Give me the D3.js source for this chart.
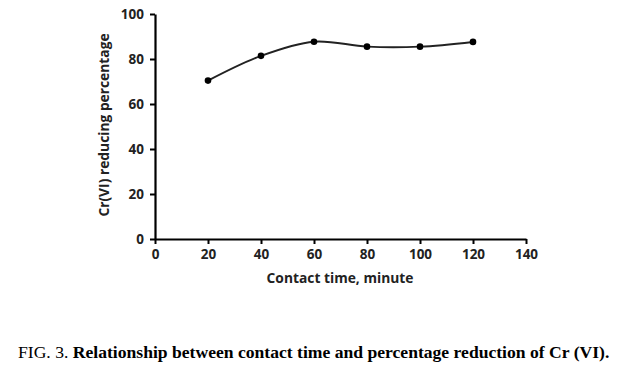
<!DOCTYPE html>
<html><head><meta charset="utf-8">
<script src="https://cdn.jsdelivr.net/npm/d3@7"></script>
<style>body{margin:0;background:#fff}svg{display:block}</style>
</head><body>
<svg id="c" width="624" height="368"></svg>
<script>
const times = [20, 40, 60, 80, 100, 120];
const reduction = [70.4, 81.4, 87.7, 85.5, 85.5, 87.6];
const xTicks = [0, 20, 40, 60, 80, 100, 120, 140];
const yTicks = [0, 20, 40, 60, 80, 100];
const xTitle = "Contact time, minute";
const yTitle = "Cr(VI) reducing percentage";

const svg = d3.select("#c");
const x = d3.scaleLinear().domain([0, 140]).range([155, 526]);
const y = d3.scaleLinear().domain([0, 100]).range([239, 14]);
const font = "'Open Sans', sans-serif";

const xa = svg.append("g").attr("transform", `translate(0,${y(0)})`)
  .call(d3.axisBottom(x).tickValues(xTicks).tickSize(5).tickPadding(5).tickSizeOuter(0));
const ya = svg.append("g").attr("transform", `translate(${x(0)},0)`)
  .call(d3.axisLeft(y).tickValues(yTicks).tickSize(5).tickPadding(6).tickSizeOuter(0));
[xa, ya].forEach(g => {
  g.select(".domain").attr("stroke", "#000").attr("stroke-width", 2.2);
  g.selectAll(".tick line").attr("stroke", "#000").attr("stroke-width", 2);
  g.selectAll(".tick text").attr("fill", "#222").style("font-family", font)
    .style("font-size", "13.5px").style("font-weight", "bold");
});

const line = d3.line().x((d, i) => x(times[i])).y(d => y(d)).curve(d3.curveCatmullRom.alpha(0.5));
svg.append("path").datum(reduction).attr("d", line)
  .attr("fill", "none").attr("stroke", "#222").attr("stroke-width", 2);
svg.selectAll("circle.pt").data(reduction).enter().append("circle")
  .attr("cx", (d, i) => x(times[i])).attr("cy", d => y(d)).attr("r", 3.3).attr("fill", "#000");

svg.append("text").attr("x", 340).attr("y", 283).attr("text-anchor", "middle")
  .style("font-family", font).style("font-size", "13.8px").style("font-weight", "bold")
  .attr("fill", "#222").text(xTitle);
svg.append("text").attr("transform", "translate(109,125) rotate(-90)").attr("text-anchor", "middle")
  .style("font-family", font).style("font-size", "13.8px").style("font-weight", "bold")
  .attr("fill", "#222").text(yTitle);

const cap = svg.append("text").attr("x", 18).attr("y", 358)
  .style("font-family", "'Liberation Serif', 'Times New Roman', serif").style("font-size", "17.6px").attr("fill", "#000");
cap.append("tspan").text("FIG. 3. ");
cap.append("tspan").style("font-weight", "bold").text("Relationship between contact time and percentage reduction of Cr (VI).");
</script>
</body></html>
